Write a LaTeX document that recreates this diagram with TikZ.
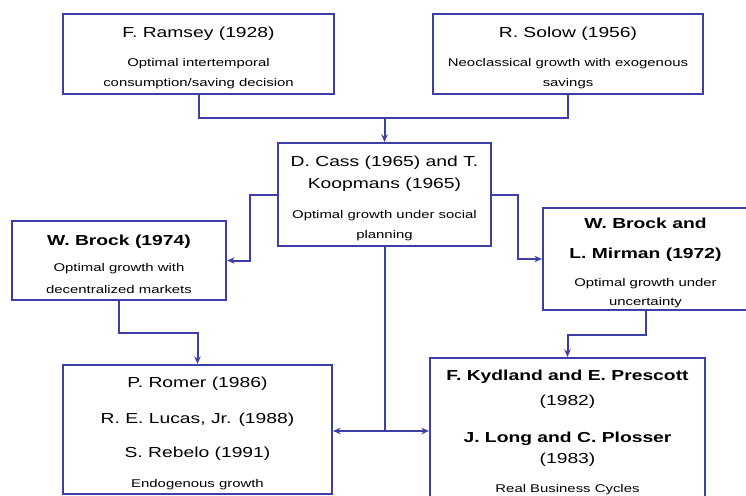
\documentclass[tikz,border=0pt]{standalone}
\usepackage{fontspec}
\usetikzlibrary{arrows.meta}
\newfontfamily\widesf[FakeStretch=1.33]{Liberation Sans}
\definecolor{boxblue}{RGB}{62,62,168}
\newcommand{\desc}{\fontsize{11.2}{19}\selectfont}
\newcommand{\toppad}{\rule{0pt}{18pt}}

\begin{document}
\begin{tikzpicture}[x=1pt, y=-1pt,
    box/.style={draw=boxblue, line width=2.2pt, fill=white, align=center, inner sep=0pt,
      font=\widesf\fontsize{14.5}{22}\selectfont},
    link/.style={draw=boxblue, line width=2pt},
    arr/.style={link, -{Stealth[length=7.5pt,width=6.5pt]}}]
        \useasboundingbox (0,0) rectangle (746,495);

        % Top row: the two origins
        \node[box, minimum width=271pt, minimum height=80pt] (ramsey) at (198.5,54)
          {\toppad F. Ramsey (1928)\\[7pt]{\desc Optimal intertemporal}\\[-2pt]{\desc consumption/saving decision}};
        \node[box, minimum width=270pt, minimum height=80pt] (solow) at (568,54)
          {\toppad R. Solow (1956)\\[7pt]{\desc Neoclassical growth with exogenous}\\[-2pt]{\desc savings}};

        % Middle row
        \node[box, minimum width=213pt, minimum height=103pt] (cass) at (384.5,194.5)
          {\toppad D. Cass (1965) and T.\\Koopmans (1965)\\[8pt]{\desc Optimal growth under social}\\[-2pt]{\desc planning}};
        \node[box, minimum width=214pt, minimum height=79pt] (brock) at (119,260.5)
          {\toppad{\bfseries W. Brock (1974)}\\[4pt]{\desc Optimal growth with}\\[0pt]{\desc decentralized markets}};
        \node[box, minimum width=205pt, minimum height=102pt] (mirman) at (645.5,259)
          {\toppad{\bfseries W. Brock and}\\[8pt]{\bfseries L. Mirman (1972)}\\[6pt]{\desc Optimal growth under}\\[-3pt]{\desc uncertainty}};

        % Bottom row
        \node[box, minimum width=269pt, minimum height=129pt] (romer) at (197.5,429.5)
          {\toppad P. Romer (1986)\\[14pt]R. E. Lucas, Jr. (1988)\\[12pt]S. Rebelo (1991)\\[8pt]{\desc Endogenous growth}};
        \node[box, minimum width=275pt, minimum height=142pt] (kydland) at (567.5,429)
          {\toppad{\bfseries F. Kydland and E. Prescott}\\[3pt](1982)\\[15pt]{\bfseries J. Long and C. Plosser}\\[-1pt](1983)\\[7pt]{\desc Real Business Cycles}};

        % Connectors
        \coordinate (jtop) at (384.5,118);
        \coordinate (jlow) at (384.5,431);
        \draw[link] (ramsey.south) |- (jtop);
        \draw[link] (solow.south) |- (jtop);
        \draw[arr] (jtop) -- (cass.north);
        \draw[arr] (cass.west) -- ++(-27,0) |- (brock.east);
        \draw[arr] (cass.east) -- ++(26,0) |- (mirman.west);
        \draw[arr] (brock.south) -- ++(0,32) -| (romer.north);
        \draw[arr] (mirman.south) -- ++(0,24) -| (kydland.north);
        \draw[link] (cass.south) -- (jlow);
        \draw[arr] (jlow) -- (romer.east |- jlow);
        \draw[arr] (jlow) -- (kydland.west |- jlow);
    \end{tikzpicture}
\end{document}
